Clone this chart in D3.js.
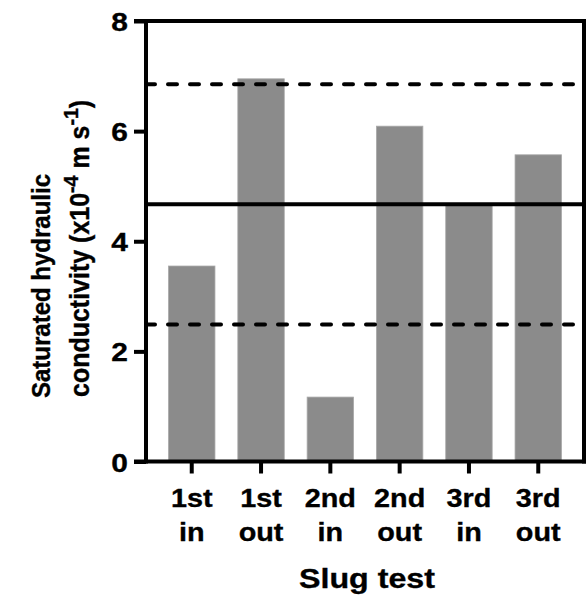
<!DOCTYPE html>
<html>
<head>
<meta charset="utf-8">
<script src="https://cdn.jsdelivr.net/npm/d3@7"></script>
<style>
  html, body { margin: 0; padding: 0; background: #fff; }
  svg { display: block; }
  text { font-family: "Liberation Sans", Arial, sans-serif; font-weight: bold; fill: #000;
         stroke: #000; stroke-width: 0.35px; }
</style>
</head>
<body>
<svg id="chart" width="586" height="596"></svg>
<script>
// Slug test results: saturated hydraulic conductivity (x10^-4 m s^-1)
const testRound = ["1st", "1st", "2nd", "2nd", "3rd", "3rd"];
const direction = ["in", "out", "in", "out", "in", "out"];
const conductivity = [3.55, 6.95, 1.17, 6.09, 4.66, 5.57];
// Mean (solid) and mean ± standard deviation (dashed)
const meanLine = [4.67];
const sdLines = [2.49, 6.85];
const yTicks = [0, 2, 4, 6, 8];

const svg = d3.select("#chart");
const plotLeft = 146, plotRight = 584, plotTop = 21, plotBottom = 461.5;
const stretch = 1.13;   // horizontal widening of the lettering

const keys = conductivity.map((_, i) => i);
const x = d3.scaleBand().domain(keys).range([plotLeft, plotRight])
  .paddingInner(0.33).paddingOuter(0.325);
const y = d3.scaleLinear().domain([0, 8]).range([plotBottom, plotTop]);

// Bars
svg.append("g").selectAll("rect").data(conductivity).join("rect")
  .attr("x", (d, i) => x(i))
  .attr("width", x.bandwidth())
  .attr("y", d => y(d))
  .attr("height", d => y(0) - y(d))
  .attr("fill", "#8b8b8b")
  .attr("stroke", "#a9a9a9")
  .attr("stroke-width", 0.8);

// Reference lines
svg.append("g").selectAll("line.sd").data(sdLines).join("line")
  .attr("class", "sd")
  .attr("x1", plotLeft).attr("x2", plotRight)
  .attr("y1", d => y(d)).attr("y2", d => y(d))
  .attr("stroke", "#000").attr("stroke-width", 4)
  .attr("stroke-linecap", "round")
  .attr("stroke-dasharray", "9,13");

svg.append("g").selectAll("line.mean").data(meanLine).join("line")
  .attr("class", "mean")
  .attr("x1", plotLeft).attr("x2", plotRight)
  .attr("y1", d => y(d)).attr("y2", d => y(d))
  .attr("stroke", "#000").attr("stroke-width", 4);

// Frame: top and right
svg.append("line").attr("x1", plotLeft - 12).attr("x2", plotRight + 2)
  .attr("y1", y(8)).attr("y2", y(8))
  .attr("stroke", "#000").attr("stroke-width", 4);
svg.append("line").attr("x1", plotRight).attr("x2", plotRight)
  .attr("y1", y(8)).attr("y2", plotBottom + 2)
  .attr("stroke", "#000").attr("stroke-width", 4);

// Y axis
const yAxis = svg.append("g").attr("transform", `translate(${plotLeft},0)`)
  .call(d3.axisLeft(y).tickValues(yTicks).tickFormat(d3.format("d"))
    .tickSize(12).tickPadding(6));
yAxis.select(".domain").attr("stroke", "#000").attr("stroke-width", 4)
  .attr("d", `M0,${plotTop - 2}V${plotBottom + 2}`);
yAxis.selectAll(".tick line").attr("stroke", "#000").attr("stroke-width", 4);
yAxis.selectAll(".tick text")
  .attr("font-size", 26.5).attr("dy", "0.36em")
  .attr("x", -18 / stretch)
  .attr("transform", `scale(${stretch},1)`);

// X axis
const xAxis = svg.append("g").attr("transform", `translate(0,${plotBottom})`)
  .call(d3.axisBottom(x).tickSize(12).tickFormat(""));
xAxis.select(".domain").attr("stroke", "#000").attr("stroke-width", 4)
  .attr("d", `M${plotLeft - 12},0H${plotRight + 2}`);
xAxis.selectAll(".tick line").attr("stroke", "#000").attr("stroke-width", 4);
xAxis.selectAll(".tick text").remove();

// Two-line category labels
const labels = svg.append("g").attr("font-size", 25.5).attr("text-anchor", "middle");
keys.forEach(i => {
  const cx = x(i) + x.bandwidth() / 2;
  const g = labels.append("g")
    .attr("transform", `translate(${cx},506.5) scale(${stretch},1)`);
  g.append("text").attr("x", 0).attr("y", 0).text(testRound[i]);
  g.append("text").attr("x", 0).attr("y", 34.5).text(direction[i]);
});

// X axis title
svg.append("g")
  .attr("transform", `translate(${(plotLeft + plotRight) / 2 + 2},588) scale(1.15,1)`)
  .append("text")
  .attr("text-anchor", "middle").attr("font-size", 28)
  .text("Slug test");

// Y axis title (two lines, rotated)
const tStretch = 1.07;
const yt = svg.append("g")
  .attr("transform", `translate(0,398) scale(${tStretch},1) rotate(-90)`);
yt.append("text").attr("x", 0).attr("y", 50 / tStretch)
  .attr("font-size", 24).text("Saturated hydraulic");
const l2 = yt.append("text").attr("x", 1).attr("y", 89 / tStretch)
  .attr("font-size", 25);
l2.append("tspan").text("conductivity (x10");
l2.append("tspan").attr("dy", -10).attr("font-size", 19.5).text("-4");
l2.append("tspan").attr("dy", 10).text(" m s");
l2.append("tspan").attr("dy", -10).attr("font-size", 19.5).text("-1");
l2.append("tspan").attr("dy", 10).text(")");
</script>
</body>
</html>
